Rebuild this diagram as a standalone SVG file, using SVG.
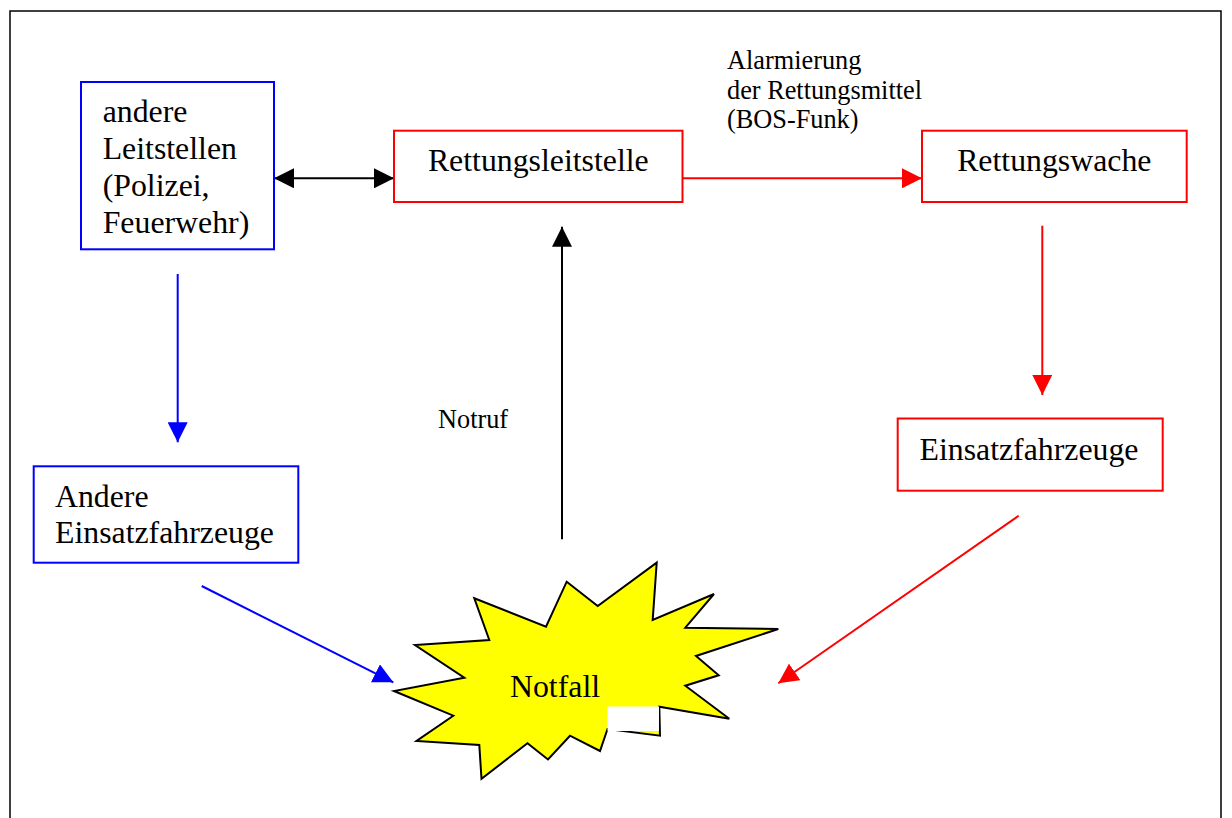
<svg xmlns="http://www.w3.org/2000/svg" width="1232" height="818" viewBox="0 0 1232 818">
  <defs>
    <marker id="ah-black" viewBox="0 0 20 20" refX="20" refY="10" markerWidth="20" markerHeight="20" markerUnits="userSpaceOnUse" orient="auto-start-reverse">
      <path d="M0,0 L20,10 L0,20 Z" fill="#000"/>
    </marker>
    <marker id="ah-red" viewBox="0 0 20 20" refX="20" refY="10" markerWidth="20" markerHeight="20" markerUnits="userSpaceOnUse" orient="auto">
      <path d="M0,0 L20,10 L0,20 Z" fill="#ff0000"/>
    </marker>
    <marker id="ah-blue" viewBox="0 0 20 20" refX="20" refY="10" markerWidth="20" markerHeight="20" markerUnits="userSpaceOnUse" orient="auto">
      <path d="M0,0 L20,10 L0,20 Z" fill="#0000ff"/>
    </marker>
  </defs>
  <style>
    .box-red { fill: #fff; stroke: #ff0000; stroke-width: 2; }
    .box-blue { fill: #fff; stroke: #0000ff; stroke-width: 2; }
    .lbl { font-family: "Liberation Serif", "Times New Roman", serif; font-size: 31.8px; fill: #000; }
    .small { font-family: "Liberation Serif", "Times New Roman", serif; font-size: 26.3px; fill: #000; }
    .c-black { stroke: #000; stroke-width: 2; fill: none; }
    .c-red { stroke: #ff0000; stroke-width: 2; fill: none; }
    .c-blue { stroke: #0000ff; stroke-width: 2; fill: none; }
  </style>

  <rect width="1232" height="818" fill="#fff"/>
  <!-- page frame -->
  <path d="M10,818 V11 H1221 V818" fill="none" stroke="#000" stroke-width="1.5"/>

  <!-- connectors -->
  <g id="connectors">
    <line class="c-black" x1="274" y1="178.3" x2="394" y2="178.3" marker-start="url(#ah-black)" marker-end="url(#ah-black)"/>
    <line class="c-red" x1="682.5" y1="178.3" x2="922" y2="178.3" marker-end="url(#ah-red)"/>
    <line class="c-red" x1="1042.3" y1="225.7" x2="1042.3" y2="395" marker-end="url(#ah-red)"/>
    <line class="c-blue" x1="177.7" y1="274" x2="177.7" y2="442.3" marker-end="url(#ah-blue)"/>
    <line class="c-black" x1="562" y1="539.3" x2="562" y2="226.7" marker-end="url(#ah-black)"/>
    <line class="c-blue" x1="201.7" y1="586" x2="393.3" y2="682.3" marker-end="url(#ah-blue)"/>
    <line class="c-red" x1="1018.7" y1="515.7" x2="778.3" y2="683.3" marker-end="url(#ah-red)"/>
    <text class="small" x="727" y="69.3">Alarmierung</text>
    <text class="small" x="727" y="99.3">der Rettungsmittel</text>
    <text class="small" x="727" y="128.3">(BOS-Funk)</text>
    <text class="small" x="438" y="428">Notruf</text>
  </g>

  <g id="node-andere-leitstellen">
    <rect class="box-blue" x="81" y="82" width="193" height="167.3"/>
    <text class="lbl" x="102.7" y="121.7">andere</text>
    <text class="lbl" x="102.7" y="159">Leitstellen</text>
    <text class="lbl" x="102.7" y="196">(Polizei,</text>
    <text class="lbl" x="102.7" y="232.5">Feuerwehr)</text>
  </g>

  <g id="node-rettungsleitstelle">
    <rect class="box-red" x="394" y="130.7" width="288.5" height="71.3"/>
    <text class="lbl" x="538.3" y="170.7" text-anchor="middle">Rettungsleitstelle</text>
  </g>

  <g id="node-rettungswache">
    <rect class="box-red" x="922" y="130.7" width="264.7" height="71.3"/>
    <text class="lbl" x="1054.3" y="170.7" text-anchor="middle">Rettungswache</text>
  </g>

  <g id="node-einsatzfahrzeuge">
    <rect class="box-red" x="897.7" y="418.5" width="265" height="72.2"/>
    <text class="lbl" x="1029" y="460" text-anchor="middle">Einsatzfahrzeuge</text>
  </g>

  <g id="node-andere-einsatzfahrzeuge">
    <rect class="box-blue" x="33.7" y="466.3" width="264.6" height="96.4"/>
    <text class="lbl" x="55" y="506.7">Andere</text>
    <text class="lbl" x="55" y="543.3">Einsatzfahrzeuge</text>
  </g>

  <g id="node-notfall">
    <polygon fill="#ffff00" stroke="#000" stroke-width="2" stroke-linejoin="miter"
      points="474.3,598.3 546,626.7 566.7,581.7 597.7,606 656.7,562.7 652.7,620 714,594 685.3,627.7 778.3,629 696,656 718.7,675.3 685.3,685.7 729.3,718.7 659.3,706.7 660,735.7 607.5,729 600,751 570,735.7 548,759.5 527.5,743.3 481.5,778.8 479.3,745 416.5,741 453.3,715.7 394,691 464.3,677.7 415,645 489.3,640"/>
    <rect x="607.5" y="706.5" width="51.5" height="24.5" fill="#fff"/>
    <text class="lbl" x="510" y="696.7">Notfall</text>
  </g>
</svg>
